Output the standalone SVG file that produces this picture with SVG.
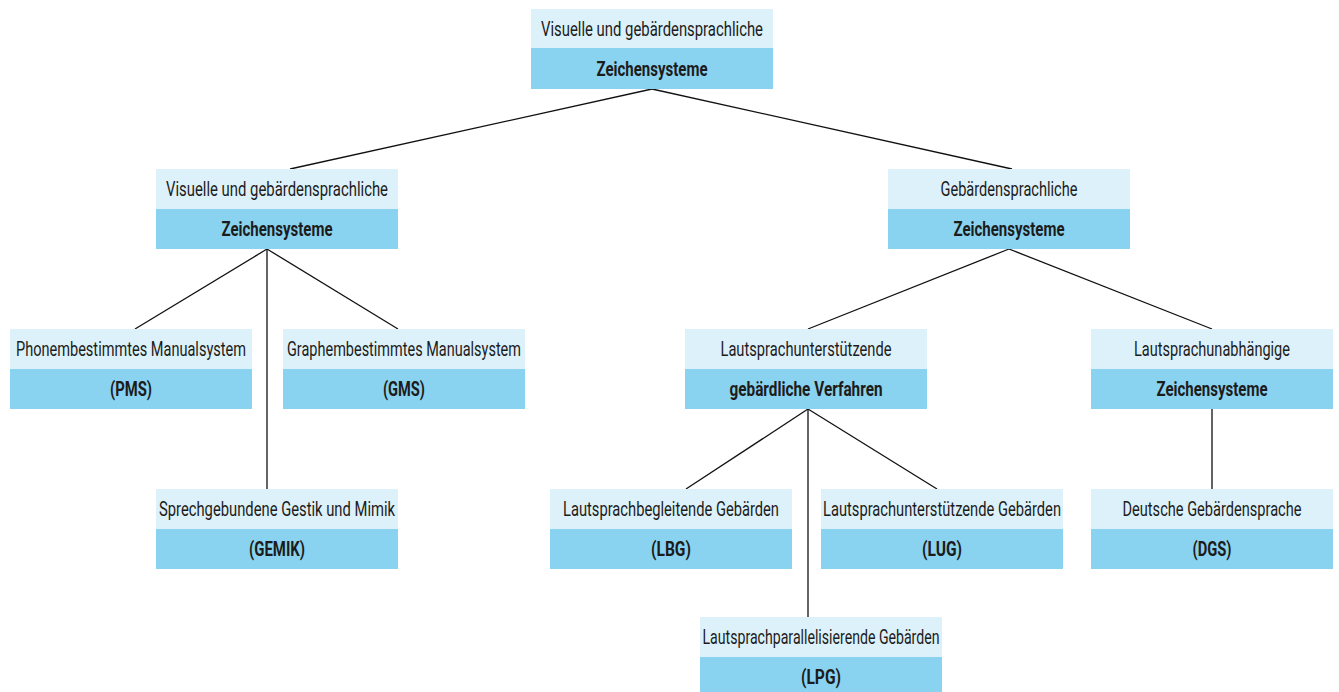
<svg xmlns="http://www.w3.org/2000/svg" width="1339" height="692" viewBox="0 0 1339 692">
<style>
.l{fill:#dcf1fa}
.d{fill:#8ad3f0}
text{font-family:Roboto,"Liberation Sans",sans-serif;font-size:20px;fill:#1c1c1c;text-anchor:middle}
.b{font-weight:bold}
.c line{stroke:#111;stroke-width:1.3}
</style>
<rect width="1339" height="692" fill="#fff"/>
<g class="c" id="connectors">
<line x1="652" y1="89" x2="290" y2="169"/>
<line x1="652" y1="89" x2="1012" y2="169"/>
<line x1="267" y1="249" x2="135" y2="329"/>
<line x1="267" y1="249" x2="267" y2="489"/>
<line x1="267" y1="249" x2="398" y2="329"/>
<line x1="1009" y1="249" x2="808" y2="329"/>
<line x1="1009" y1="249" x2="1212" y2="329"/>
<line x1="808" y1="409" x2="686" y2="489"/>
<line x1="808" y1="409" x2="808" y2="617"/>
<line x1="808" y1="409" x2="937" y2="489"/>
<line x1="1212" y1="409" x2="1212" y2="489"/>
</g>
<g id="n-root">
<rect class="l" x="531" y="9" width="242" height="40"/><rect class="d" x="531" y="48" width="242" height="41"/>
<text x="652" y="36" textLength="222" lengthAdjust="spacingAndGlyphs">Visuelle und gebärdensprachliche</text>
<text class="b" x="652" y="76" textLength="111" lengthAdjust="spacingAndGlyphs">Zeichensysteme</text>
</g>
<g id="n-visuell">
<rect class="l" x="156" y="169" width="242" height="40"/><rect class="d" x="156" y="209" width="242" height="40"/>
<text x="277" y="196" textLength="222" lengthAdjust="spacingAndGlyphs">Visuelle und gebärdensprachliche</text>
<text class="b" x="277" y="236" textLength="111" lengthAdjust="spacingAndGlyphs">Zeichensysteme</text>
</g>
<g id="n-gebaerden">
<rect class="l" x="888" y="169" width="242" height="40"/><rect class="d" x="888" y="209" width="242" height="40"/>
<text x="1009" y="196" textLength="137" lengthAdjust="spacingAndGlyphs">Gebärdensprachliche</text>
<text class="b" x="1009" y="236" textLength="111" lengthAdjust="spacingAndGlyphs">Zeichensysteme</text>
</g>
<g id="n-pms">
<rect class="l" x="10" y="329" width="242" height="40"/><rect class="d" x="10" y="369" width="242" height="40"/>
<text x="131" y="356" textLength="230" lengthAdjust="spacingAndGlyphs">Phonembestimmtes Manualsystem</text>
<text class="b" x="131" y="396" textLength="42" lengthAdjust="spacingAndGlyphs">(PMS)</text>
</g>
<g id="n-gms">
<rect class="l" x="283" y="329" width="242" height="40"/><rect class="d" x="283" y="369" width="242" height="40"/>
<text x="404" y="356" textLength="234" lengthAdjust="spacingAndGlyphs">Graphembestimmtes Manualsystem</text>
<text class="b" x="404" y="396" textLength="42" lengthAdjust="spacingAndGlyphs">(GMS)</text>
</g>
<g id="n-lus">
<rect class="l" x="685" y="329" width="242" height="40"/><rect class="d" x="685" y="369" width="242" height="40"/>
<text x="806" y="356" textLength="171" lengthAdjust="spacingAndGlyphs">Lautsprachunterstützende</text>
<text class="b" x="806" y="396" textLength="153" lengthAdjust="spacingAndGlyphs">gebärdliche Verfahren</text>
</g>
<g id="n-lua">
<rect class="l" x="1091" y="329" width="242" height="40"/><rect class="d" x="1091" y="369" width="242" height="40"/>
<text x="1212" y="356" textLength="156" lengthAdjust="spacingAndGlyphs">Lautsprachunabhängige</text>
<text class="b" x="1212" y="396" textLength="111" lengthAdjust="spacingAndGlyphs">Zeichensysteme</text>
</g>
<g id="n-gemik">
<rect class="l" x="156" y="489" width="242" height="40"/><rect class="d" x="156" y="529" width="242" height="40"/>
<text x="277" y="516" textLength="236" lengthAdjust="spacingAndGlyphs">Sprechgebundene Gestik und Mimik</text>
<text class="b" x="277" y="556" textLength="56" lengthAdjust="spacingAndGlyphs">(GEMIK)</text>
</g>
<g id="n-lbg">
<rect class="l" x="550" y="489" width="242" height="40"/><rect class="d" x="550" y="529" width="242" height="40"/>
<text x="671" y="516" textLength="216" lengthAdjust="spacingAndGlyphs">Lautsprachbegleitende Gebärden</text>
<text class="b" x="671" y="556" textLength="40" lengthAdjust="spacingAndGlyphs">(LBG)</text>
</g>
<g id="n-lug">
<rect class="l" x="821" y="489" width="242" height="40"/><rect class="d" x="821" y="529" width="242" height="40"/>
<text x="942" y="516" textLength="238" lengthAdjust="spacingAndGlyphs">Lautsprachunterstützende Gebärden</text>
<text class="b" x="942" y="556" textLength="40" lengthAdjust="spacingAndGlyphs">(LUG)</text>
</g>
<g id="n-dgs">
<rect class="l" x="1091" y="489" width="242" height="40"/><rect class="d" x="1091" y="529" width="242" height="40"/>
<text x="1212" y="516" textLength="179" lengthAdjust="spacingAndGlyphs">Deutsche Gebärdensprache</text>
<text class="b" x="1212" y="556" textLength="39" lengthAdjust="spacingAndGlyphs">(DGS)</text>
</g>
<g id="n-lpg">
<rect class="l" x="700" y="617" width="242" height="40"/><rect class="d" x="700" y="657" width="242" height="40"/>
<text x="821" y="644" textLength="237" lengthAdjust="spacingAndGlyphs">Lautsprachparallelisierende Gebärden</text>
<text class="b" x="821" y="684" textLength="40" lengthAdjust="spacingAndGlyphs">(LPG)</text>
</g>
</svg>
